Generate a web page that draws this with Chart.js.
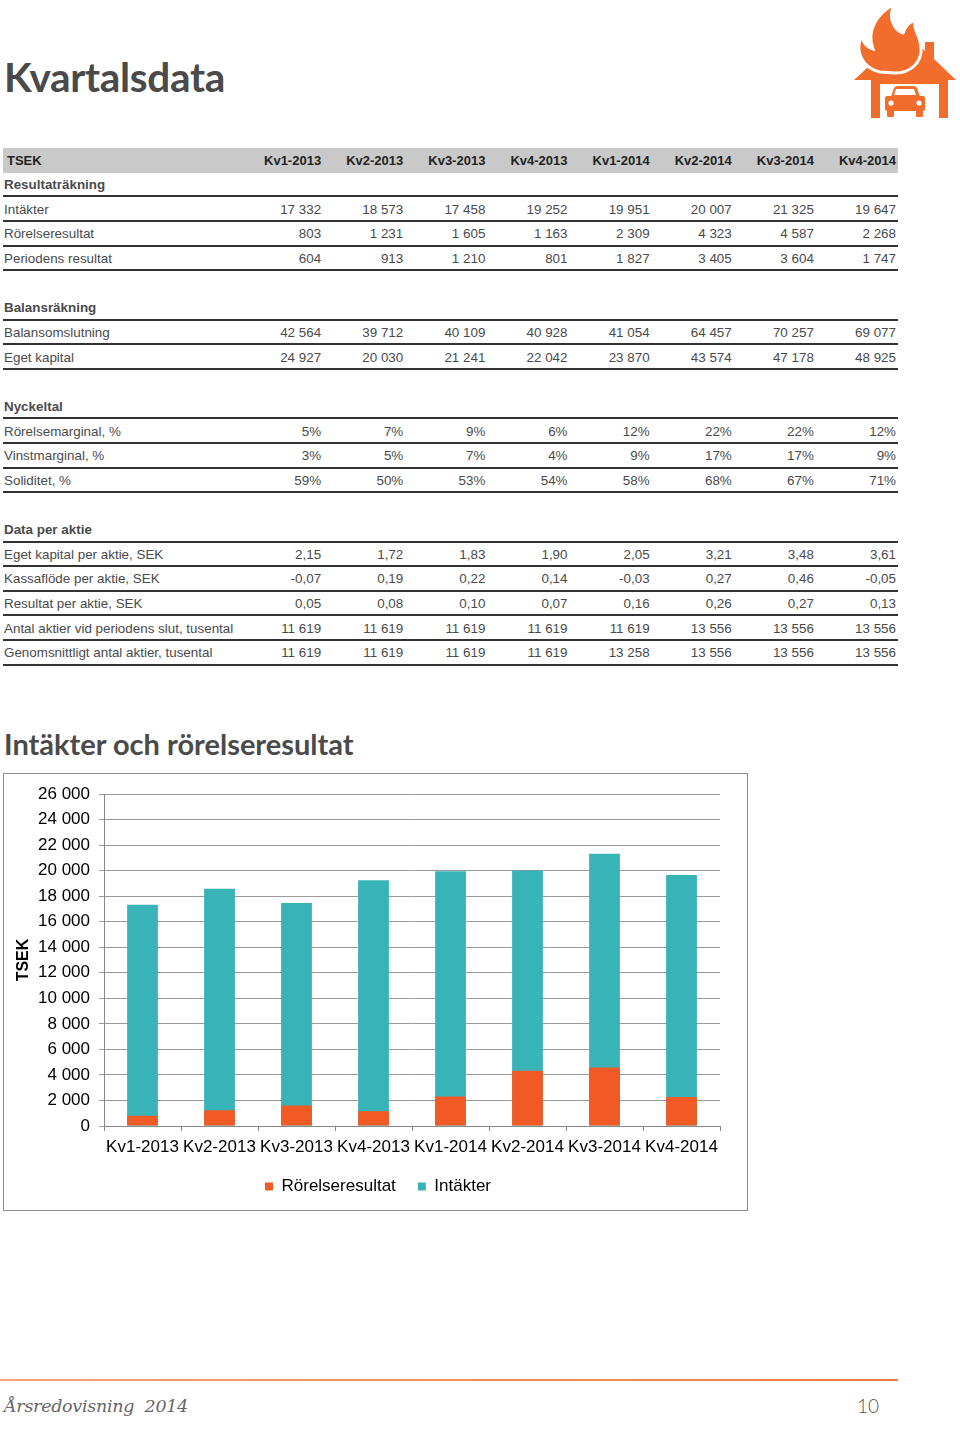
<!DOCTYPE html>
<html>
<head>
<meta charset="utf-8">
<script src="https://cdn.jsdelivr.net/npm/chart.js@4.4.1/dist/chart.umd.min.js"></script>
<style>
  html, body { margin: 0; padding: 0; background: #fff; }
  #page { position: relative; width: 960px; height: 1433px; overflow: hidden; font-family: 'Liberation Sans', Arial, sans-serif; }
  .h1 { position: absolute; left: 4px; top: 56px; font-family: Lato, sans-serif; font-weight: 700; font-size: 40.5px; line-height: 42px; color: #4a4a4a; letter-spacing: -0.3px; }
  .h2 { position: absolute; left: 4px; top: 729px; font-family: Lato, sans-serif; font-weight: 700; font-size: 29px; line-height: 30px; color: #4a4a4a; }
  #table { position: absolute; left: 3px; top: 148px; width: 895px; }
  .row { display: flex; height: 24.67px; box-sizing: border-box; font-size: 13.4px; color: #4a4a4a; align-items: center; padding-top: 1px; }
  .row.line { border-bottom: 2px solid #333; }
  .row.head { background: #c9c9c9; font-weight: bold; color: #222; font-size: 13px; }
  .row.sect { font-weight: bold; }
  .row .lab { width: 237px; padding-left: 1px; box-sizing: border-box; white-space: nowrap; }
  .row.head .lab { padding-left: 4px; }
  .row .val { width: 82.125px; text-align: right; padding-right: 1px; box-sizing: border-box; white-space: nowrap; }
  #chartBox { position: absolute; left: 3px; top: 773px; width: 745px; height: 438px; border: 1px solid #8c8c8c; box-sizing: border-box; }
  #chartBox canvas { display: block; }
  #footLine { position: absolute; left: 0; top: 1379px; width: 898px; height: 2px; background: linear-gradient(to right, #f3a27a, #f07a40); }
  .script { position: absolute; left: 4px; top: 1396px; font-family: 'DejaVu Serif', serif; font-style: italic; font-size: 17.5px; color: #666; letter-spacing: -0.3px; }
  .pagenum { position: absolute; left: 857px; top: 1394px; font-family: Lato, sans-serif; font-weight: 300; font-size: 19px; color: #555; }
  #logo { position: absolute; left: 850px; top: 0; }
</style>
</head>
<body>
<div id="page">
  <svg id="logo" width="110" height="122" viewBox="850 0 110 122">
    <g fill="#f26c2b">
      <path d="M854 80 L905 33 L925 51 L925 42 L934 42 L934 59 L956 80 Z"/>
      <rect x="871" y="76" width="77" height="8"/>
      <rect x="871" y="80" width="9" height="38"/>
      <rect x="939" y="80" width="9" height="38"/>
    </g>
    <path d="M880 72 C862 68 855 52 861 36 C864 44 868 48 873 49 C866 30 877 14 894 4 C887 20 896 31 903 33 C905 27 909 22 915 20 C912 28 921 37 921 48 C922 62 911 73 895 73 Z" fill="#f26c2b" stroke="#fff" stroke-width="3"/>
    <g fill="#f26c2b">
      <path d="M891 97 L894 88 Q895 86 898 86 L913 86 Q916 86 917 88 L920 97 Z"/>
      <rect x="885" y="96" width="40" height="15" rx="2"/>
      <rect x="887" y="109" width="7" height="8" rx="1"/>
      <rect x="916" y="109" width="7" height="8" rx="1"/>
    </g>
    <g fill="#fff">
      <path d="M894 95 L896 89 L914 89 L916 95 Z"/>
      <circle cx="891" cy="103" r="2.6"/>
      <circle cx="919" cy="103" r="2.6"/>
    </g>
  </svg>

  <div class="h1">Kvartalsdata</div>
  <div id="table"></div>
  <div class="h2">Intäkter och rörelseresultat</div>
  <div id="chartBox"><canvas id="chart" width="743" height="436"></canvas></div>
  <div id="footLine"></div>
  <div class="script">Årsredovisning&nbsp; 2014</div>
  <div class="pagenum">10</div>
</div>

<script>
// Kvartalsdata
const quarters = ['Kv1-2013', 'Kv2-2013', 'Kv3-2013', 'Kv4-2013', 'Kv1-2014', 'Kv2-2014', 'Kv3-2014', 'Kv4-2014'];
const intakter = [17332, 18573, 17458, 19252, 19951, 20007, 21325, 19647];
const rorelseresultat = [803, 1231, 1605, 1163, 2309, 4323, 4587, 2268];
const periodensResultat = [604, 913, 1210, 801, 1827, 3405, 3604, 1747];
const balansomslutning = [42564, 39712, 40109, 40928, 41054, 64457, 70257, 69077];
const egetKapital = [24927, 20030, 21241, 22042, 23870, 43574, 47178, 48925];
const rorelsemarginal = [5, 7, 9, 6, 12, 22, 22, 12];
const vinstmarginal = [3, 5, 7, 4, 9, 17, 17, 9];
const soliditet = [59, 50, 53, 54, 58, 68, 67, 71];
const egetKapitalPerAktie = ['2,15', '1,72', '1,83', '1,90', '2,05', '3,21', '3,48', '3,61'];
const kassaflodePerAktie = ['-0,07', '0,19', '0,22', '0,14', '-0,03', '0,27', '0,46', '-0,05'];
const resultatPerAktie = ['0,05', '0,08', '0,10', '0,07', '0,16', '0,26', '0,27', '0,13'];
const antalAktierSlut = [11619, 11619, 11619, 11619, 11619, 13556, 13556, 13556];
const antalAktierSnitt = [11619, 11619, 11619, 11619, 13258, 13556, 13556, 13556];

// y axis ticks of the chart
const yTicks = [0, 2000, 4000, 6000, 8000, 10000, 12000, 14000, 16000, 18000, 20000, 22000, 24000, 26000];

const fmt = n => String(n).replace(/\B(?=(\d{3})+(?!\d))/g, ' ');
const pct = n => n + '%';

// table rows: [type, label, values]
const rows = [
  ['head', 'TSEK', quarters],
  ['sect', 'Resultaträkning'],
  ['data', 'Intäkter', intakter.map(fmt)],
  ['data', 'Rörelseresultat', rorelseresultat.map(fmt)],
  ['data', 'Periodens resultat', periodensResultat.map(fmt)],
  ['blank'],
  ['sect', 'Balansräkning'],
  ['data', 'Balansomslutning', balansomslutning.map(fmt)],
  ['data', 'Eget kapital', egetKapital.map(fmt)],
  ['blank'],
  ['sect', 'Nyckeltal'],
  ['data', 'Rörelsemarginal, %', rorelsemarginal.map(pct)],
  ['data', 'Vinstmarginal, %', vinstmarginal.map(pct)],
  ['data', 'Soliditet, %', soliditet.map(pct)],
  ['blank'],
  ['sect', 'Data per aktie'],
  ['data', 'Eget kapital per aktie, SEK', egetKapitalPerAktie],
  ['data', 'Kassaflöde per aktie, SEK', kassaflodePerAktie],
  ['data', 'Resultat per aktie, SEK', resultatPerAktie],
  ['data', 'Antal aktier vid periodens slut, tusental', antalAktierSlut.map(fmt)],
  ['data', 'Genomsnittligt antal aktier, tusental', antalAktierSnitt.map(fmt)],
];

const table = document.getElementById('table');
rows.forEach(([type, label, vals]) => {
  const r = document.createElement('div');
  r.className = 'row ' + type + (type === 'data' || type === 'sect' ? ' line' : '');
  const lab = document.createElement('div');
  lab.className = 'lab';
  lab.textContent = label || '';
  r.appendChild(lab);
  (vals || []).forEach(v => {
    const c = document.createElement('div');
    c.className = 'val';
    c.textContent = v;
    r.appendChild(c);
  });
  table.appendChild(r);
});

// chart
const FONT = "'Liberation Sans', Arial, sans-serif";
Chart.defaults.font.family = FONT;

// the legend sits a bit right of the plot centre in the original
const legendShift = {
  id: 'legendShift',
  afterLayout(chart) {
    chart.legend.left += 16;
    chart.legend.right += 16;
  }
};

new Chart(document.getElementById('chart'), {
  type: 'bar',
  data: {
    labels: quarters,
    datasets: [
      { label: 'Rörelseresultat', data: rorelseresultat, backgroundColor: '#f15a24', grouped: false, barPercentage: 0.4, categoryPercentage: 1 },
      { label: 'Intäkter', data: intakter, backgroundColor: '#38b4b9', grouped: false, barPercentage: 0.4, categoryPercentage: 1 }
    ]
  },
  plugins: [legendShift],
  options: {
    responsive: false,
    animation: false,
    devicePixelRatio: 1,
    layout: { padding: { left: 0, right: 27, top: 20, bottom: 5 } },
    plugins: {
      tooltip: { enabled: false },
      legend: {
        position: 'bottom',
        labels: { boxWidth: 8, boxHeight: 8, padding: 22, color: '#000', font: { size: 17 } }
      }
    },
    scales: {
      x: {
        afterFit(scale) { scale.height = 30; },
        grid: { drawOnChartArea: false, drawTicks: true, tickLength: 5, color: '#888', offset: true },
        border: { color: '#888' },
        ticks: { color: '#000', font: { size: 17 }, padding: 6, autoSkip: false, maxRotation: 0 }
      },
      y: {
        min: 0,
        max: 26000,
        afterFit(scale) { scale.width = 100; },
        afterBuildTicks(scale) { scale.ticks = yTicks.map(v => ({ value: v })); },
        grid: { color: '#9a9a9a', tickLength: 5 },
        border: { color: '#888' },
        ticks: { color: '#000', font: { size: 17 }, padding: 9, callback: v => fmt(v) },
        title: { display: true, text: 'TSEK', color: '#000', font: { size: 16, weight: 'bold' }, padding: { top: 10, bottom: 0 } }
      }
    }
  }
});
</script>
</body>
</html>
